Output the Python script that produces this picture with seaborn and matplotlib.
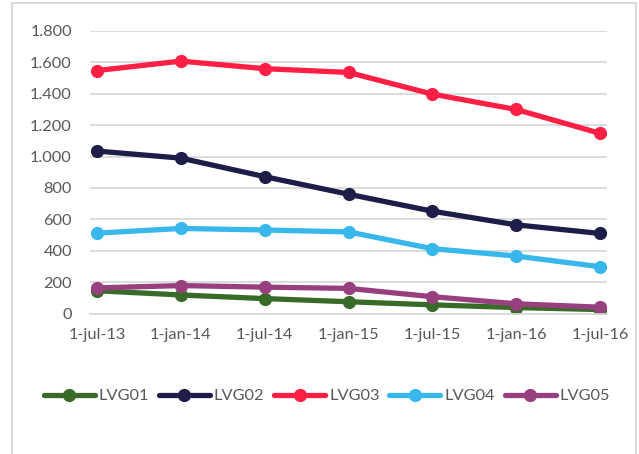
import numpy as np
import pandas as pd
import matplotlib
matplotlib.use("Agg")
import matplotlib.pyplot as plt
import seaborn as sns
from matplotlib.patches import Rectangle
from matplotlib.ticker import FuncFormatter, MultipleLocator

# ---- data ----
dates = ["1-jul-13", "1-jan-14", "1-jul-14", "1-jan-15", "1-jul-15", "1-jan-16", "1-jul-16"]
series_names = ["LVG01", "LVG02", "LVG03", "LVG04", "LVG05"]
lvg01 = [145, 118, 95, 75, 55, 38, 25]
lvg02 = [1035, 990, 872, 760, 652, 565, 510]
lvg03 = [1548, 1608, 1560, 1536, 1398, 1300, 1148]
lvg04 = [512, 542, 532, 520, 413, 366, 298]
lvg05 = [163, 178, 168, 160, 107, 62, 40]
colors = ["#386B28", "#1E1C48", "#FF1F44", "#37B7EB", "#983F80"]

values = [lvg01, lvg02, lvg03, lvg04, lvg05]
df = pd.DataFrame({
    "idx": np.tile(np.arange(len(dates)), len(series_names)),
    "value": np.concatenate(values),
    "series": np.repeat(series_names, len(dates)),
})

sns.set_theme(style="white")
plt.rcParams["font.family"] = ["Lato", "DejaVu Sans"]

W, H = 639, 454
fs = 11.8
fig = plt.figure(figsize=(W / 100, H / 100), dpi=100)
ax = fig.add_axes([90 / W, (H - 313.5) / H, (607 - 90) / W, (313.5 - 31) / H])

sns.lineplot(data=df, x="idx", y="value", hue="series", hue_order=series_names,
             palette=colors, marker="o", markersize=9.5, markeredgewidth=0,
             linewidth=3.8, ax=ax, legend=True)

grid_c = "#D9D9D9"
txt_c = "#595959"
ax.set_ylim(0, 1800)
ax.yaxis.set_major_locator(MultipleLocator(200))
ax.yaxis.set_major_formatter(FuncFormatter(lambda v, p: f"{int(v):,}".replace(",", ".")))
off = 7 / 84
ax.set_xlim(-off, len(dates) - 1 + off)
ax.set_xticks(range(len(dates)))
ax.set_xticklabels(dates)
ax.set_xticks([i - off for i in range(len(dates))], minor=True)
ax.tick_params(axis="x", which="major", length=0, pad=10.5, labelsize=fs, labelcolor=txt_c)
ax.tick_params(axis="x", which="minor", length=5, width=1.3, color=grid_c, direction="out")
ax.tick_params(axis="y", length=0, pad=13, labelsize=fs, labelcolor=txt_c)
ax.grid(axis="y", color=grid_c, linewidth=1.3)
ax.set_axisbelow(True)
for s in ["top", "right", "left"]:
    ax.spines[s].set_visible(False)
ax.spines["bottom"].set_color(grid_c)
ax.spines["bottom"].set_linewidth(1.3)
ax.set_xlabel("")
ax.set_ylabel("")

handles, labels = ax.get_legend_handles_labels()
ax.get_legend().remove()
for h in handles:
    h.set_linewidth(3.8)
    h.set_markersize(9.5)
fig.legend(handles, labels, loc="center", bbox_to_anchor=(327 / W, (H - 396) / H),
           ncol=5, frameon=False, fontsize=fs, handlelength=3.1, handletextpad=0.25,
           columnspacing=0.6, labelcolor=txt_c)

fig.patches.append(Rectangle((12 / W, -0.1), (636 - 12) / W, 0.1 + (H - 3) / H,
                             transform=fig.transFigure, fill=False,
                             edgecolor=grid_c, linewidth=1.5))

fig.savefig("out.png", dpi=100)
